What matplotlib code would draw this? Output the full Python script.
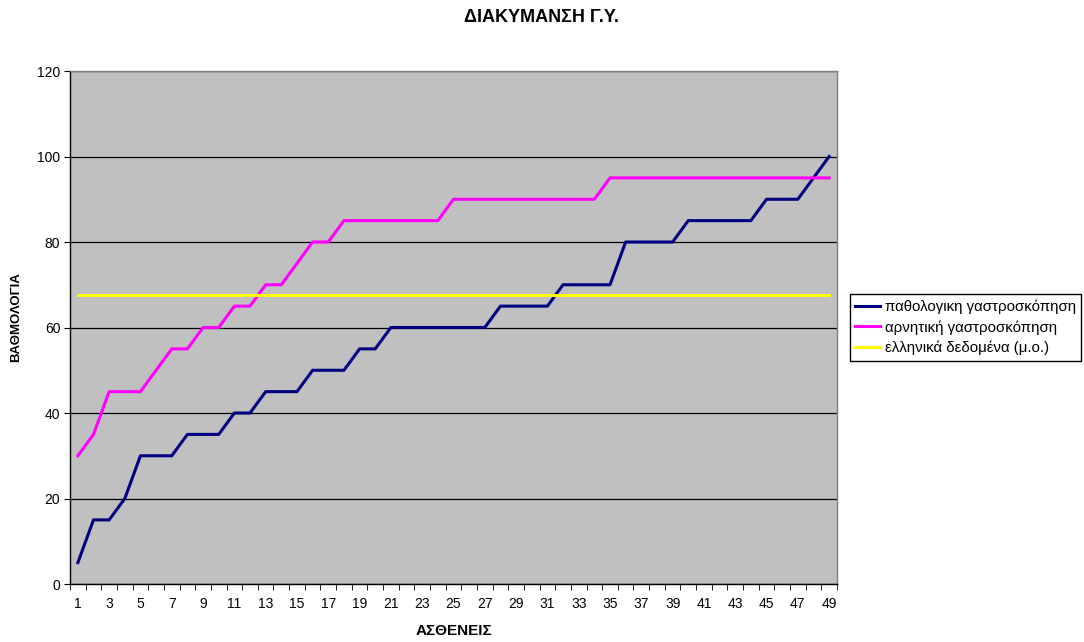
import matplotlib
matplotlib.use("Agg")
import matplotlib.pyplot as plt
import numpy as np

plt.rcParams['font.family'] = ['Liberation Sans', 'DejaVu Sans']

# patients 1..49
patients = np.arange(1, 50)

# scores, sorted ascending
pathological = [5, 15, 15, 20, 30, 30, 30, 35, 35, 35,
                40, 40, 45, 45, 45, 50, 50, 50, 55, 55,
                60, 60, 60, 60, 60, 60, 60, 65, 65, 65,
                65, 70, 70, 70, 70, 80, 80, 80, 80, 85,
                85, 85, 85, 85, 90, 90, 90, 95, 100]
negative = [30, 35, 45, 45, 45, 50, 55, 55, 60, 60,
            65, 65, 70, 70, 75, 80, 80, 85, 85, 85,
            85, 85, 85, 85, 90, 90, 90, 90, 90, 90,
            90, 90, 90, 90, 95, 95, 95, 95, 95, 95,
            95, 95, 95, 95, 95, 95, 95, 95, 95]
greek_mean = 67.5

labels = ['παθολογικη γαστροσκόπηση', 'αρνητική γαστροσκόπηση', 'ελληνικά δεδομένα (μ.ο.)']

fig = plt.figure(figsize=(10.84, 6.42), dpi=100)
ax = fig.add_axes([0.0646, 0.0903, 0.7075, 0.7991])
ax.set_facecolor('#C0C0C0')

ax.plot(patients, pathological, color='#000080', lw=2.2, label=labels[0])
ax.plot(patients, negative, color='#FF00FF', lw=2.2, label=labels[1])
ax.plot(patients, [greek_mean] * len(patients), color='#FFFF00', lw=2.2, label=labels[2])

ax.set_xlim(0.5, 49.5)
ax.set_ylim(0, 120)
ax.set_yticks(np.arange(0, 121, 20))
ax.set_xticks(np.arange(1, 50, 2))
ax.set_xticks(np.arange(0.5, 50, 1), minor=True)
ax.tick_params(axis='x', which='major', length=0, labelsize=10, pad=9.5)
ax.tick_params(axis='x', which='minor', length=4, direction='out', color='black')
ax.tick_params(axis='y', length=4, direction='out', labelsize=10, pad=3)
ax.yaxis.grid(True, color='black', lw=0.9)
ax.set_axisbelow(True)
for side in ['top', 'right']:
    ax.spines[side].set_color('#808080')
    ax.spines[side].set_linewidth(1)
for side in ['left', 'bottom']:
    ax.spines[side].set_color('black')
    ax.spines[side].set_linewidth(1)

ax.set_xlabel('ΑΣΘΕΝΕΙΣ', fontsize=11, fontweight='bold', labelpad=9)
ax.set_ylabel('ΒΑΘΜΟΛΟΓΙΑ', fontsize=9.5, fontweight='bold')
ax.yaxis.set_label_coords(-0.062, 0.52)
fig.text(0.5, 0.972, 'ΔΙΑΚΥΜΑΝΣΗ Γ.Υ.', ha='center', va='center',
         fontsize=13, fontweight='bold')

leg = fig.legend(loc='upper left', bbox_to_anchor=(0.784, 0.542), fontsize=10.8,
                 frameon=True, fancybox=False, edgecolor='black', framealpha=1,
                 handlelength=1.65, handletextpad=0.33, borderpad=0.35,
                 labelspacing=0.42, borderaxespad=0)
leg.get_frame().set_linewidth(1)

fig.savefig('out.png', dpi=100)
